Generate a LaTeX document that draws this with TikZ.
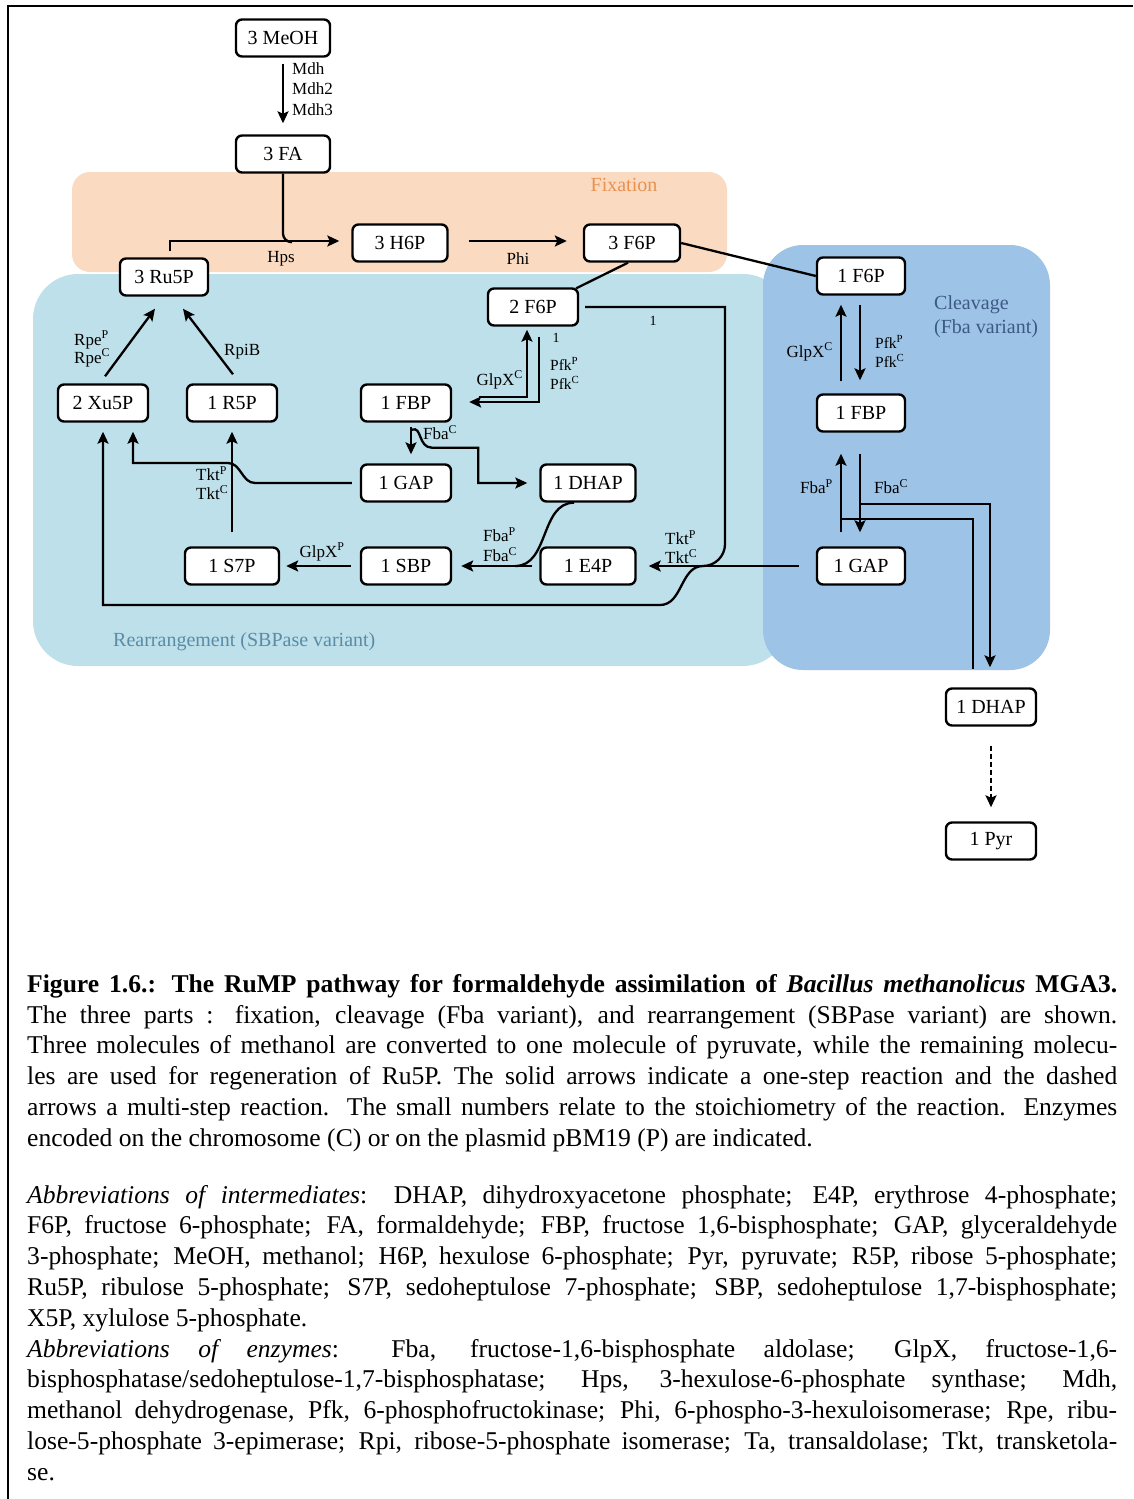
\documentclass[tikz,border=0pt]{standalone}
\usepackage{fontspec}
\setmainfont{Liberation Serif}
\usetikzlibrary{arrows.meta,calc}
\definecolor{fixfill}{RGB}{250,218,192}
\definecolor{rearfill}{RGB}{190,224,234}
\definecolor{cleavfill}{RGB}{157,195,230}
\definecolor{fixtext}{RGB}{232,145,80}
\definecolor{cleavtext}{RGB}{60,90,135}
\definecolor{reartext}{RGB}{90,140,165}
\begin{document}
\begin{tikzpicture}[x=1pt,y=-1pt,
  box/.style={draw, line width=2.4pt, rounded corners=6pt, fill=white, minimum width=92pt, minimum height=37pt, inner sep=0pt, font=\fontsize{20}{24}\selectfont},
  lab/.style={inner sep=0pt, font=\fontsize{17}{20}\selectfont},
  slab/.style={inner sep=0pt, font=\fontsize{15.5}{18}\selectfont},
  num/.style={inner sep=0pt, font=\fontsize{14}{16}\selectfont},
  conn/.style={line width=2.3pt},
  arr/.style={conn, -{Stealth[length=12pt,width=11pt,inset=2.5pt]}},
  reglab/.style={inner sep=0pt, font=\fontsize{20}{24}\selectfont},
  capline/.style={anchor=base west, inner sep=0pt, font=\fontsize{25.6}{30.8}\selectfont}
]
\useasboundingbox (0,0) rectangle (1133,1499);
% frame
\draw[line width=2pt] (1133,6) -- (8,6) -- (8,1499);
% regions
\fill[fixfill, rounded corners=18pt] (72,172) rectangle (727,272);
\fill[rearfill, rounded corners=45pt] (33,274) rectangle (788,666);
\fill[cleavfill, rounded corners=40pt] (763,245) rectangle (1050,670);
\node[reglab, text=fixtext] (fixlab) at (624,185) {Fixation};
\node[reglab, text=cleavtext, anchor=west] (clelab1) at (934,305) {Cleavage};
\node[reglab, text=cleavtext, anchor=west] (clelab2) at (934,329) {(Fba variant)};
\node[reglab, text=reartext, anchor=west] (rearlab) at (113,642) {Rearrangement (SBPase variant)};
% nodes
\node[box, minimum width=94pt] (meoh) at (283,38) {3 MeOH};
\node[box, minimum width=94pt] (fa) at (283,154) {3 FA};
\node[box, minimum width=88pt] (ru5p) at (164,277) {3 Ru5P};
\node[box, minimum width=95pt] (h6p) at (400,243) {3 H6P};
\node[box, minimum width=96pt] (f6pa) at (632,243) {3 F6P};
\node[box, minimum width=90pt] (f6pb) at (533,307) {2 F6P};
\node[box, minimum width=88pt] (f6pc) at (861,276) {1 F6P};
\node[box, minimum width=88pt] (fbpc) at (861,413) {1 FBP};
\node[box, minimum width=88pt] (gapc) at (861,566) {1 GAP};
\node[box, minimum width=90pt] (xu5p) at (103,403) {2 Xu5P};
\node[box, minimum width=90pt] (r5p) at (232,403) {1 R5P};
\node[box, minimum width=90pt] (fbpm) at (406,403) {1 FBP};
\node[box, minimum width=90pt] (gapm) at (406,483) {1 GAP};
\node[box, minimum width=95pt] (dhapm) at (588,483) {1 DHAP};
\node[box, minimum width=94pt] (s7p) at (232,566) {1 S7P};
\node[box, minimum width=90pt] (sbp) at (406,566) {1 SBP};
\node[box, minimum width=95pt] (e4p) at (588,566) {1 E4P};
\node[box, minimum width=90pt] (dhapb) at (991,707) {1 DHAP};
\node[box, minimum width=90pt] (pyr) at (991,841) {1 Pyr};
% MeOH -> FA
\draw[arr] ($(meoh.south)+(0,6)$) -- ($(fa.north)+(0,-11)$);
\node[lab, anchor=west] (mdh1) at (292,69) {Mdh};
\node[lab, anchor=west] (mdh2) at (292,89) {Mdh2};
\node[lab, anchor=west] (mdh3) at (292,110) {Mdh3};
% Hps
\draw[arr] ($(ru5p.north)+(6,-6)$) |- ($(h6p.west)+(-12,-2)$);
\draw[conn] (fa.south) -- ($(fa.south)+(0,60)$) to[out=-90,in=180] ($(fa.south)+(9,68.5)$);
\node[lab] (hps) at (281,259) {Hps};
% Phi
\draw[arr] ($(h6p.east)+(20,-2)$) -- ($(f6pa.west)+(-16,-2)$);
\node[lab] (phi) at (518,259) {Phi};
% 3 F6P splits
\draw[conn] (f6pa.east) -- (f6pc.west);
\draw[conn] ($(f6pa.south)+(-4,0)$) -- ($(f6pb.north east)+(-3,1)$);
% 2 F6P -> Tkt junction
\coordinate (tktj) at (703,566);
\draw[conn] ($(f6pb.east)+(6,0)$) -| (725,544) to[out=-90,in=0] (tktj);
\node[num] (n1a) at (653,321) {1};
\draw[arr] ($(gapc.west)+(-17,0)$) -- ($(e4p.east)+(12,0)$);
\draw[arr] (tktj) to[out=180,in=0] (660,605) -| ($(xu5p.south)+(0,9)$);
\node[lab, anchor=west] (tktp2) at (665,538) {Tkt\textsuperscript{P}};
\node[lab, anchor=west] (tktc2) at (665,557) {Tkt\textsuperscript{C}};
% Fba to SBP
\draw[arr] ($(e4p.west)+(-7,0)$) -- ($(sbp.east)+(9,0)$);
\draw[conn] ($(dhapm.south)+(-14,0)$) to[out=180,in=0] ($(e4p.west)+(-24,0)$);
\node[lab, anchor=west] (fbap1) at (483,535) {Fba\textsuperscript{P}};
\node[lab, anchor=west] (fbac2) at (483,555) {Fba\textsuperscript{C}};
% GlpX P
\draw[arr] ($(sbp.west)+(-9,0)$) -- ($(s7p.east)+(6,0)$);
\node[lab] (glpxp) at (322,552) {GlpX\textsuperscript{P}};
% S7P -> R5P
\draw[arr] ($(s7p.north)+(0,-14)$) -- ($(r5p.south)+(0,9)$);
% GAP -> Xu5P (Tkt)
\draw[arr] ($(gapm.west)+(-8,0)$) -- (255,483) to[out=180,in=0] (228,463) -| ($(xu5p.south)+(30,9)$);
\node[lab, anchor=west] (tktp1) at (196,474) {Tkt\textsuperscript{P}};
\node[lab, anchor=west] (tktc1) at (196,493) {Tkt\textsuperscript{C}};
% Rpe, RpiB
\draw[arr] ($(xu5p.north)+(2,-7)$) -- ($(ru5p.south)+(-9,12)$);
\node[lab, anchor=west] (rpep) at (74,340) {Rpe\textsuperscript{P}};
\node[lab, anchor=west] (rpec) at (74,358) {Rpe\textsuperscript{C}};
\draw[arr] ($(r5p.north)+(1,-9)$) -- ($(ru5p.south)+(19,12)$);
\node[lab, anchor=west] (rpib) at (224,352) {RpiB};
% FBP -> GAP, DHAP
\draw[arr] ($(fbpm.south)+(5,4)$) -- ($(gapm.north)+(5,-9)$);
\draw[arr] ($(fbpm.south)+(6,7)$) .. controls ($(fbpm.south)+(16,3)$) and ($(fbpm.south)+(12,25)$) .. ($(fbpm.south)+(26,25)$) -| ($(dhapm.west)+(-61,0)$) -- ($(dhapm.west)+(-12,0)$);
\node[lab, anchor=west] (fbac1) at (423,433) {Fba\textsuperscript{C}};
% 2 F6P <-> 1 FBP
\draw[arr] ($(f6pb.south)+(6,10)$) |- ($(fbpm.east)+(17,-1)$);
\draw[arr] ($(fbpm.east)+(27,-6)$) -| ($(f6pb.south)+(-6,3)$);
\node[lab, anchor=east] (glpxc1) at (523,380) {GlpX\textsuperscript{C}};
\node[slab, anchor=west] (pfkp1) at (550,364) {Pfk\textsuperscript{P}};
\node[slab, anchor=west] (pfkc1) at (550,383) {Pfk\textsuperscript{C}};
\node[num] (n1b) at (556,338) {1};
% Cleavage
\draw[arr] ($(fbpc.north)+(-20,-12)$) -- ($(f6pc.south)+(-20,9)$);
\draw[arr] ($(f6pc.south)+(-1,9)$) -- ($(fbpc.north)+(-1,-13)$);
\node[lab, anchor=east] (glpxc2) at (833,352) {GlpX\textsuperscript{C}};
\node[slab, anchor=west] (pfkp2) at (875,342) {Pfk\textsuperscript{P}};
\node[slab, anchor=west] (pfkc2) at (875,361) {Pfk\textsuperscript{C}};
\draw[arr] ($(gapc.north)+(-20,-14)$) -- ($(fbpc.south)+(-20,21)$);
\draw[arr] ($(fbpc.south)+(-1,21)$) -- ($(gapc.north)+(-1,-14)$);
\node[lab, anchor=east] (fbap2) at (833,487) {Fba\textsuperscript{P}};
\node[lab, anchor=west] (fbac3) at (874,487) {Fba\textsuperscript{C}};
\draw[arr] ($(fbpc.south)+(-1,71)$) -| ($(dhapb.north)+(-1,-20)$);
\draw[conn] ($(fbpc.south)+(-20,86)$) -| ($(dhapb.north)+(-18,-18)$);
% DHAP -> Pyr
\draw[arr, dash pattern=on 5pt off 3pt] ($(dhapb.south)+(0,19)$) -- ($(pyr.north)+(0,-14)$);
% caption
\node[capline] (cap1) at (27,992) {\makebox[1090pt][s]{\bfseries Figure 1.6.: The RuMP pathway for formaldehyde assimilation of \textit{Bacillus methanolicus} MGA3.}};
\node[capline] (cap2) at (27,1023) {\makebox[1090pt][s]{The three parts : fixation, cleavage (Fba variant), and rearrangement (SBPase variant) are shown.}};
\node[capline] (cap3) at (27,1053.6) {\makebox[1090pt][s]{Three molecules of methanol are converted to one molecule of pyruvate, while the remaining molecu-}};
\node[capline] (cap4) at (27,1084.4) {\makebox[1090pt][s]{les are used for regeneration of Ru5P. The solid arrows indicate a one-step reaction and the dashed}};
\node[capline] (cap5) at (27,1115.2) {\makebox[1090pt][s]{arrows a multi-step reaction. The small numbers relate to the stoichiometry of the reaction. Enzymes}};
\node[capline] (cap6) at (27,1146) {encoded on the chromosome (C) or on the plasmid pBM19 (P) are indicated.};
\node[capline] (cap7) at (27,1203) {\makebox[1090pt][s]{\textit{Abbreviations of intermediates}: DHAP, dihydroxyacetone phosphate; E4P, erythrose 4-phosphate;}};
\node[capline] (cap8) at (27,1233.8) {\makebox[1090pt][s]{F6P, fructose 6-phosphate; FA, formaldehyde; FBP, fructose 1,6-bisphosphate; GAP, glyceraldehyde}};
\node[capline] (cap9) at (27,1264.6) {\makebox[1090pt][s]{3-phosphate; MeOH, methanol; H6P, hexulose 6-phosphate; Pyr, pyruvate; R5P, ribose 5-phosphate;}};
\node[capline] (cap10) at (27,1295.4) {\makebox[1090pt][s]{Ru5P, ribulose 5-phosphate; S7P, sedoheptulose 7-phosphate; SBP, sedoheptulose 1,7-bisphosphate;}};
\node[capline] (cap11) at (27,1326.2) {X5P, xylulose 5-phosphate.};
\node[capline] (cap12) at (27,1357) {\makebox[1090pt][s]{\textit{Abbreviations of enzymes}: Fba, fructose-1,6-bisphosphate aldolase; GlpX, fructose-1,6-}};
\node[capline] (cap13) at (27,1387.8) {\makebox[1090pt][s]{bisphosphatase/sedoheptulose-1,7-bisphosphatase; Hps, 3-hexulose-6-phosphate synthase; Mdh,}};
\node[capline] (cap14) at (27,1418.6) {\makebox[1090pt][s]{methanol dehydrogenase, Pfk, 6-phosphofructokinase; Phi, 6-phospho-3-hexuloisomerase; Rpe, ribu-}};
\node[capline] (cap15) at (27,1449.4) {\makebox[1090pt][s]{lose-5-phosphate 3-epimerase; Rpi, ribose-5-phosphate isomerase; Ta, transaldolase; Tkt, transketola-}};
\node[capline] (cap16) at (27,1480.2) {se.};
\end{tikzpicture}
\end{document}
